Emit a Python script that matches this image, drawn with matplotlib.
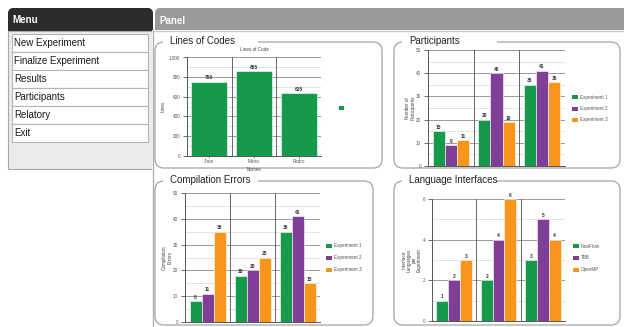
import numpy as np
import matplotlib
matplotlib.use('Agg')
import matplotlib.pyplot as plt
from matplotlib.patches import FancyBboxPatch, Rectangle
from matplotlib.ticker import MultipleLocator, FuncFormatter

plt.rcParams['font.family'] = ['Liberation Sans', 'DejaVu Sans']

W, H = 624, 327

# menu entries
menu_items = ['New Experiment', 'Finalize Experiment', 'Results',
              'Participants', 'Relatory', 'Exit']

# lines of code per person
loc_names = ['Jhon', 'Maria', 'Pedro']
loc_values = [750, 855, 635]

# participants / compilation errors per experiment (one list per series)
experiments = ['Experiment 1', 'Experiment 2', 'Experiment 3']
participants = [[15, 20, 35], [9, 40, 41], [11, 19, 36]]
compile_errors = [[8, 18, 35], [11, 20, 41], [35, 25, 15]]

# interface languages per experiment
languages = ['FastFlow', 'TBB', 'OpenMP']
lang_counts = [[1, 2, 3], [2, 4, 5], [3, 6, 4]]

GREEN, PURPLE, ORANGE = '#16994a', '#7f3f98', '#f7951d'
SERIES_COLORS = [GREEN, PURPLE, ORANGE]


def rect(x, y, w, h):
    # pixel box (top-left origin) -> figure fraction
    return [x / W, 1 - (y + h) / H, w / W, h / H]


fig = plt.figure(figsize=(W / 100, H / 100), dpi=100)
bg = fig.add_axes([0, 0, 1, 1])
bg.set_xlim(0, W)
bg.set_ylim(H, 0)
bg.axis('off')

# ---- menu ----
hdr = FancyBboxPatch((8, 8), 145, 30, boxstyle='round,pad=0,rounding_size=6',
                     facecolor='#2b2b2b', edgecolor='none')
bg.add_patch(hdr)
grad = np.linspace(0, 1, 50).reshape(-1, 1)
im = bg.imshow(grad, cmap=matplotlib.colors.LinearSegmentedColormap.from_list(
    'm', ['#555555', '#1e1e1e']), extent=(8, 153, 31, 8), aspect='auto')
im.set_clip_path(hdr)
bg.add_patch(Rectangle((8, 31), 145, 138, facecolor='#ebebeb',
                       edgecolor='#a8a8a8', lw=0.8))
bg.text(12, 20, 'Menu', color='white', fontsize=7, fontweight='bold',
        va='center', ha='left')
for i, item in enumerate(menu_items):
    y0 = 34 + i * 18
    bg.add_patch(Rectangle((12, y0), 136, 18, facecolor='white',
                           edgecolor='#b5b5b5', lw=0.8))
    bg.text(14, y0 + 9.5, item, fontsize=7, color='#1a1a1a', va='center')

# ---- panel header ----
bg.add_patch(FancyBboxPatch((155, 8), 475, 30,
                            boxstyle='round,pad=0,rounding_size=5',
                            facecolor='#9a9a9a', edgecolor='none'))
bg.add_patch(Rectangle((152, 30), 480, 300, facecolor='white',
                       edgecolor='none'))
bg.plot([155, 624], [30.5, 30.5], color='#c8c8c8', lw=1)
bg.plot([152.5, 152.5], [30, 327], color='#b0b0b0', lw=1)
bg.text(159, 21, 'Panel', color='white', fontsize=7, fontweight='bold',
        va='center')

# ---- chart boxes ----
boxes = [(155, 42, 227, 126, 'Lines of Codes'),
         (394, 42, 226, 126, 'Participants'),
         (155, 181, 218, 144, 'Compilation Errors'),
         (394, 181, 226, 144, 'Language Interfaces')]
for x0, y0, w, h, title in boxes:
    bg.add_patch(FancyBboxPatch((x0, y0), w, h,
                                boxstyle='round,pad=0,rounding_size=9',
                                facecolor='white', edgecolor='#a5a5a5', lw=0.9))
    bg.add_patch(Rectangle((x0 + 8, y0 - 2), 95, 4, facecolor='white',
                           edgecolor='none'))
    bg.text(x0 + 15, y0 - 1, title, fontsize=7, color='#222222', va='center')


def bar_chart(box, series, ymax, major, minor, labels=None, ylabel='',
              fmt=None, labelpad=0.5):
    ax = fig.add_axes(rect(*box))
    ax.patch.set_visible(False)
    n = len(series)
    ncat = len(series[0])
    x = np.arange(ncat)
    w = 0.8 / n
    for j, vals in enumerate(series):
        pos = x + (j - (n - 1) / 2) * w
        color = SERIES_COLORS[j] if n > 1 else GREEN
        bars = ax.bar(pos, vals, width=w, color=color, edgecolor='white',
                      lw=0.4, zorder=3)
        for b, v in zip(bars, vals):
            ax.annotate(str(v), (b.get_x() + b.get_width() / 2, v),
                        xytext=(0, 1), textcoords='offset points',
                        ha='center', va='bottom', fontsize=3.5,
                        fontweight='bold', color='#333333', zorder=4)
    ax.set_xlim(-0.5, ncat - 0.5)
    ax.set_ylim(0, ymax)
    ax.yaxis.set_major_locator(MultipleLocator(major))
    ax.yaxis.set_minor_locator(MultipleLocator(minor))
    if fmt:
        ax.yaxis.set_major_formatter(FuncFormatter(fmt))
    ax.grid(True, which='major', axis='y', color='#8a8a8a', lw=0.6, zorder=1)
    ax.grid(True, which='minor', axis='y', color='#d8d8d8', lw=0.5, zorder=1)
    for b in np.arange(ncat) + 0.5:
        ax.axvline(b, color='#666666', lw=0.7, zorder=2)
    for s in ['top', 'right']:
        ax.spines[s].set_visible(False)
    ax.spines['left'].set_color('#555555')
    ax.spines['bottom'].set_color('#555555')
    ax.spines['left'].set_linewidth(0.7)
    ax.spines['bottom'].set_linewidth(0.7)
    ax.tick_params(axis='y', which='major', labelsize=3.3, length=3,
                   width=0.6, colors='#555555', pad=2)
    ax.tick_params(axis='y', which='minor', length=0)
    if labels:
        ax.set_xticks(x, labels)
        ax.tick_params(axis='x', labelsize=3.3, length=1.5, width=0.5,
                       colors='#555555', pad=1)
    else:
        ax.set_xticks([])
    ax.set_ylabel(ylabel, fontsize=3.3, color='#444444', labelpad=labelpad,
                  linespacing=1.0)
    return ax


ax1 = bar_chart((187, 57, 134, 99), [loc_values], 1000, 200, 100,
                labels=loc_names, ylabel='Lines',
                fmt=lambda v, p: f'{int(v):,}', labelpad=2)
ax1.set_title('Lines of Code', fontsize=3.3, color='#444444', pad=4)
ax1.set_xlabel('Nomes', fontsize=3.3, color='#444444', labelpad=2)
bg.add_patch(Rectangle((339, 106), 5, 4, facecolor=GREEN, edgecolor='none'))

bar_chart((428, 50, 137, 116), participants, 50, 10, 5,
          ylabel='Number of\nParticipants')
bar_chart((185, 193, 135, 129), compile_errors, 50, 10, 5,
          ylabel='Compilation\nErrors')
bar_chart((432, 199, 133, 122), lang_counts, 6, 2, 1,
          ylabel='Interface\nLanguages\nper\nExperiment')


def legend(x, ys, names):
    for name, y, c in zip(names, ys, SERIES_COLORS):
        bg.add_patch(Rectangle((x, y - 2), 5.5, 4, facecolor=c,
                               edgecolor='none'))
        bg.text(x + 7.5, y, name, fontsize=3.3, color='#555555', va='center')


legend(572, [97, 108.5, 120], experiments)
legend(326, [246, 258, 270], experiments)
legend(573, [246, 257.5, 270], languages)

fig.savefig('out.png', dpi=100)
